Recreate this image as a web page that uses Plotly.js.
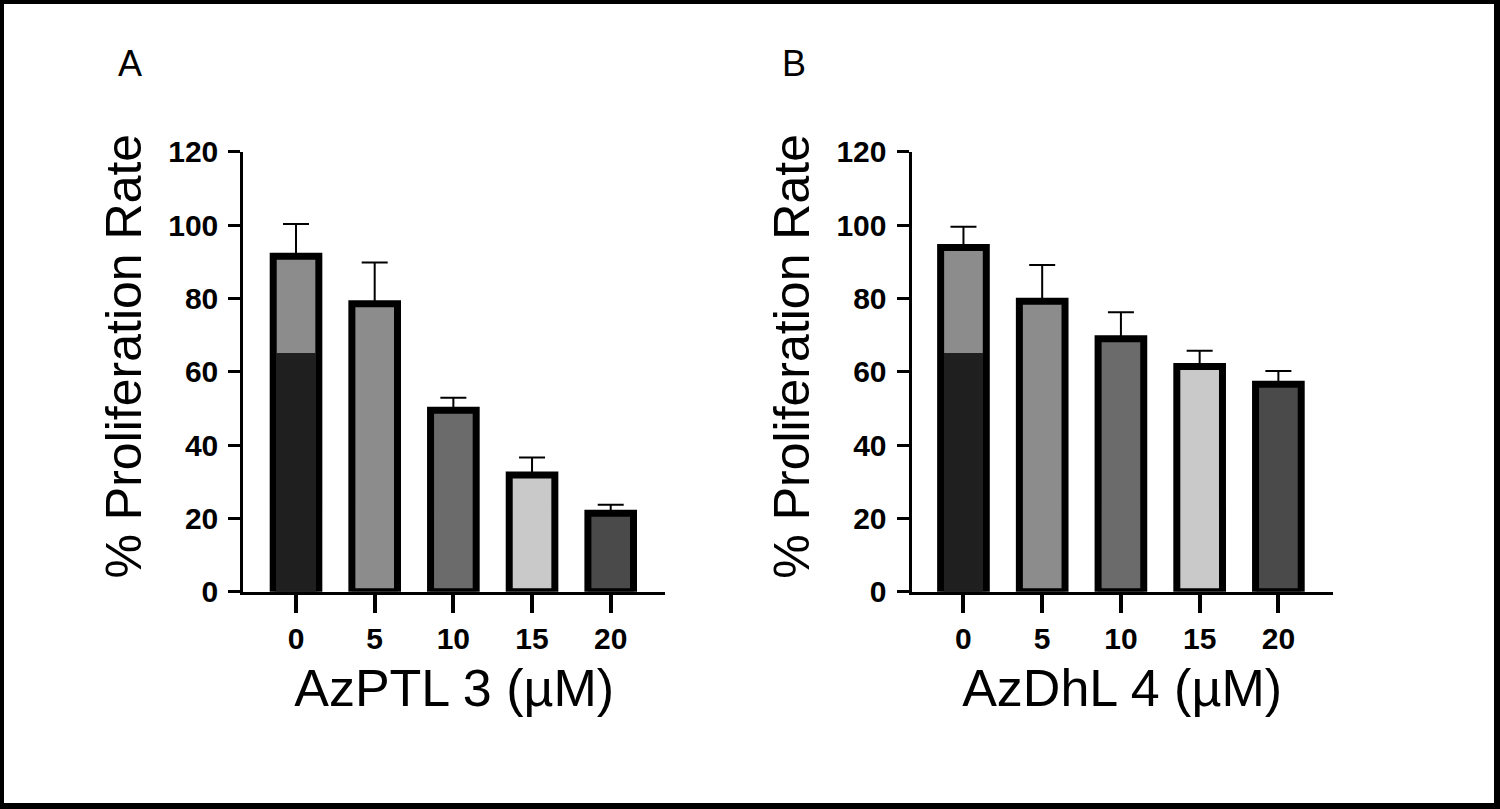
<!DOCTYPE html>
<html>
<head>
<meta charset="utf-8">
<script src="https://cdn.plot.ly/plotly-3.0.1.min.js"></script>
<style>
  html, body { margin: 0; padding: 0; background: #fff; }
  #wrap { position: relative; width: 1500px; height: 809px; }
  #chart { position: absolute; left: 0; top: 0; width: 1500px; height: 809px; }
  #frame { position: absolute; left: 0; top: 0; width: 1500px; height: 809px; box-sizing: border-box;
           border-style: solid; border-color: #000; border-width: 4px 6px 6px 4px; pointer-events: none; }
</style>
</head>
<body>
<div id="wrap"><div id="chart"></div><div id="frame"></div></div>
<script>
// ---- data ----
const doses = ['0', '5', '10', '15', '20'];
const azptlMeans = [91.5, 78.5, 49.5, 31.8, 21.4];
const azptlErr   = [8.8, 11.3, 3.4, 4.8, 2.3];
const azdhlMeans = [93.9, 79.2, 69.0, 61.4, 56.6];
const azdhlErr   = [5.6, 9.9, 7.2, 4.3, 3.6];
const controlDarkPart = [65];          // dark lower segment of the control (0 µM) bar
const controlDose = ['0'];
const barColors = ['#8c8c8c', '#8c8c8c', '#6b6b6b', '#c9c9c9', '#4a4a4a'];
const darkColor = '#1f1f1f';
const yTicks = [0, 20, 40, 60, 80, 100, 120];

const FONT = 'Liberation Sans, Arial, Helvetica, sans-serif';
const W = 1500, H = 809;

function mainBars(y, err, xa, ya) {
  return {
    type: 'bar', x: doses, y: y, xaxis: xa, yaxis: ya, width: 0.58,
    marker: { color: barColors, line: { color: '#000', width: 7 } },
    error_y: { type: 'data', array: err, arrayminus: err.map(() => 0), symmetric: false,
               color: '#000', thickness: 2, width: 13 },
    showlegend: false, hoverinfo: 'x+y'
  };
}
function darkSeg(xa, ya) {
  return {
    type: 'bar', x: controlDose, y: controlDarkPart, xaxis: xa, yaxis: ya, width: 0.5,
    marker: { color: darkColor, line: { width: 0 } }, showlegend: false, hoverinfo: 'skip'
  };
}

const data = [
  mainBars(azptlMeans, azptlErr, 'x', 'y'), darkSeg('x', 'y'),
  mainBars(azdhlMeans, azdhlErr, 'x2', 'y2'), darkSeg('x2', 'y2')
];

const yDomain = [(H - 591.7) / H, (H - 151.7) / H];
function xAxis(domain, range, title) {
  return {
    domain: domain, range: range, type: 'category', showline: true, linecolor: '#000', linewidth: 3,
    ticks: 'outside', ticklen: 18, tickwidth: 4, tickcolor: '#000', showgrid: false, zeroline: false,
    tickfont: { family: FONT, size: 30, weight: 700, color: '#000' }, ticklabelstandoff: 0,
    title: { text: title, font: { family: FONT, size: 52, color: '#000' }, standoff: 16 },
    fixedrange: true
  };
}
function yAxis(anchor) {
  return {
    domain: yDomain, range: [0, 120], anchor: anchor, tickvals: yTicks, ticktext: yTicks.map(String),
    showline: true, linecolor: '#000', linewidth: 3, ticks: 'outside', ticklen: 12, tickwidth: 3,
    tickcolor: '#000', showgrid: false, zeroline: false,
    tickfont: { family: FONT, size: 30, weight: 700, color: '#000' }, ticklabelstandoff: 4,
    fixedrange: true
  };
}

const layout = {
  width: W, height: H, margin: { l: 0, r: 0, t: 0, b: 0 },
  paper_bgcolor: '#fff', plot_bgcolor: 'rgba(0,0,0,0)', barmode: 'overlay', bargap: 0,
  showlegend: false,
  xaxis: xAxis([243.3 / W, 665 / W], [-0.67, 4.69], 'AzPTL 3 (µM)'),
  yaxis: yAxis('x'),
  xaxis2: xAxis([911.5 / W, 1332.7 / W], [-0.66, 4.69], 'AzDhL 4 (µM)'),
  yaxis2: yAxis('x2'),
  annotations: [
    { text: '% Proliferation Rate', textangle: -90, xref: 'paper', yref: 'paper',
      x: 123.5 / W, y: (H - 356) / H, xanchor: 'center', yanchor: 'middle', showarrow: false,
      font: { family: FONT, size: 50, color: '#000' } },
    { text: '% Proliferation Rate', textangle: -90, xref: 'paper', yref: 'paper',
      x: 791.7 / W, y: (H - 356) / H, xanchor: 'center', yanchor: 'middle', showarrow: false,
      font: { family: FONT, size: 50, color: '#000' } },
    { text: 'A', xref: 'paper', yref: 'paper', x: 129.5 / W, y: (H - 63.5) / H,
      xanchor: 'center', yanchor: 'middle', showarrow: false,
      font: { family: FONT, size: 36, color: '#000' } },
    { text: 'B', xref: 'paper', yref: 'paper', x: 794 / W, y: (H - 64) / H,
      xanchor: 'center', yanchor: 'middle', showarrow: false,
      font: { family: FONT, size: 36, color: '#000' } }
  ]
};

Plotly.newPlot('chart', data, layout, { displayModeBar: false, staticPlot: true });
</script>
</body>
</html>
